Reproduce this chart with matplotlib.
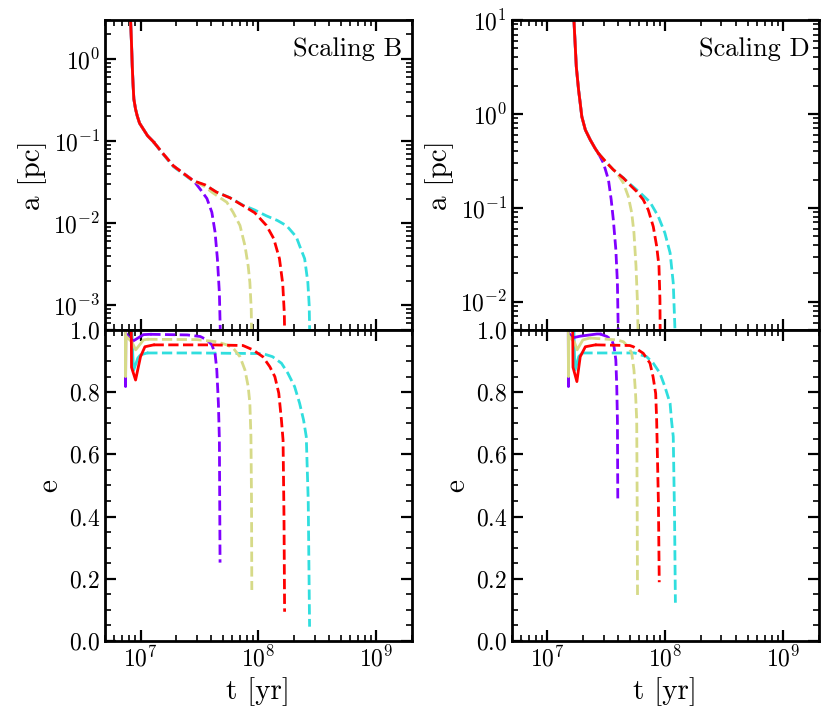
from __future__ import annotations

import matplotlib

matplotlib.use("Agg")
import matplotlib.pyplot as plt
from matplotlib.ticker import FixedLocator, FuncFormatter, LogLocator, NullFormatter

# Colours of the four runs
COLORS = {"purple": "#8000ff", "khaki": "#d6da88", "red": "#ff0000", "cyan": "#30dede"}
ORDER = ["cyan", "purple", "khaki", "red"]

# early (solid) part of the a(t) curves, shared by all runs of one scaling
B_HEAD_T = [8.23e6, 8.39e6, 8.51e6, 8.64e6, 8.78e6, 9.07e6, 9.38e6, 9.81e6, 1.054e7, 1.15e7, 1.29e7]
B_HEAD_A = [3.07, 1.52, 0.82, 0.50, 0.326, 0.247, 0.203, 0.166, 0.141, 0.116, 0.098]
D_HEAD_T = [1.66e7, 1.68e7, 1.76e7, 1.84e7, 1.90e7, 1.96e7, 2.10e7, 2.31e7, 2.54e7, 2.71e7]
D_HEAD_A = [12.0, 10.0, 3.18, 1.8, 1.3, 0.936, 0.676, 0.53, 0.43, 0.38]

# ---------------- Scaling B : separation a [pc], dashed part ----------------
B_A_T = {
    "red": [1.29e7, 1.56e7, 1.9e7, 2.8e7, 3.54e7, 4.4e7, 5.74e7, 7.4e7, 9.33e7, 1.17e8, 1.35e8, 1.51e8, 1.61e8, 1.66e8, 1.68e8],
    "cyan": [1.29e7, 1.56e7, 1.9e7, 2.8e7, 3.54e7, 4.4e7, 5.74e7, 7.4e7, 9.3e7, 1.17e8, 1.45e8, 1.74e8, 2.1e8, 2.24e8, 2.47e8, 2.63e8, 2.7e8, 2.74e8],
    "khaki": [1.29e7, 1.56e7, 1.9e7, 2.8e7, 3.5e7, 4.1e7, 5.4e7, 6.1e7, 6.98e7, 7.7e7, 8.2e7, 8.47e7, 8.7e7, 8.8e7],
    "purple": [1.29e7, 1.56e7, 1.9e7, 2.82e7, 3.21e7, 3.66e7, 4.03e7, 4.29e7, 4.49e7, 4.67e7, 4.79e7],
}
B_A = {
    "red": [0.098, 0.07, 0.05, 0.033, 0.0293, 0.024, 0.0204, 0.0164, 0.0134, 0.0094, 0.0065, 0.0037, 0.00183, 0.0008, 3e-4],
    "cyan": [0.095, 0.069, 0.049, 0.0325, 0.029, 0.024, 0.0205, 0.0166, 0.0145, 0.0123, 0.0108, 0.0093, 0.0068, 0.0053, 0.0037, 0.0019, 0.0010, 3e-4],
    "khaki": [0.098, 0.07, 0.05, 0.033, 0.028, 0.0235, 0.018, 0.0136, 0.0094, 0.0053, 0.003, 0.0019, 0.0009, 3e-4],
    "purple": [0.098, 0.07, 0.05, 0.033, 0.026, 0.020, 0.0136, 0.0078, 0.0037, 0.0014, 3e-4],
}

# ---------------- Scaling B : eccentricity e ----------------
B_E_T = {
    "purple": [7.45e6, 7.47e6, 7.5e6, 8.0e6, 8.7e6, 1.06e7, 1.21e7, 2.5e7, 3.21e7, 3.66e7, 4.03e7, 4.29e7, 4.44e7, 4.58e7, 4.67e7, 4.73e7],
    "khaki": [7.45e6, 7.47e6, 7.55e6, 8.5e6, 9.1e6, 1.06e7, 1.14e7, 3e7, 4.44e7, 5.39e7, 6.13e7, 6.98e7, 7.7e7, 8.2e7, 8.47e7, 8.65e7, 8.75e7, 8.8e7],
    "red": [8.35e6, 8.39e6, 9.08e6, 1.0e7, 1.09e7, 1.29e7, 4e7, 7.4e7, 9.0e7, 1.09e8, 1.25e8, 1.38e8, 1.49e8, 1.57e8, 1.62e8, 1.65e8, 1.67e8],
    "cyan": [8.45e6, 8.6e6, 8.73e6, 9.5e6, 1.0e7, 1.14e7, 3e7, 1.09e8, 1.32e8, 1.57e8, 1.78e8, 2.03e8, 2.24e8, 2.42e8, 2.55e8, 2.65e8, 2.72e8],
}
B_E = {
    "purple": [1.0, 0.818, 0.99, 0.975, 0.965, 0.985, 0.986, 0.984, 0.979, 0.968, 0.952, 0.925, 0.871, 0.764, 0.646, 0.252],
    "khaki": [1.0, 0.85, 0.98, 0.96, 0.936, 0.968, 0.97, 0.969, 0.962, 0.952, 0.941, 0.914, 0.871, 0.818, 0.764, 0.657, 0.45, 0.164],
    "red": [1.0, 0.88, 0.839, 0.914, 0.946, 0.952, 0.952, 0.950, 0.936, 0.914, 0.882, 0.85, 0.797, 0.71, 0.646, 0.40, 0.094],
    "cyan": [1.0, 0.92, 0.87, 0.91, 0.92, 0.926, 0.926, 0.924, 0.914, 0.893, 0.861, 0.818, 0.764, 0.71, 0.657, 0.45, 0.046],
}
B_E_SPLIT = {"purple": 1.21e7, "khaki": 1.14e7, "red": 1.29e7, "cyan": 1.14e7}

# ---------------- Scaling D : separation a [pc], dashed part ----------------
D_A_T = {
    "red": [2.71e7, 3.2e7, 3.63e7, 4.42e7, 5.0e7, 5.73e7, 6.51e7, 7.18e7, 7.92e7, 8.46e7, 8.85e7, 9.02e7, 9.08e7],
    "cyan": [2.71e7, 3.2e7, 3.63e7, 4.42e7, 5.0e7, 6.11e7, 7.43e7, 8.73e7, 9.93e7, 1.1e8, 1.17e8, 1.21e8, 1.22e8],
    "khaki": [2.71e7, 3.2e7, 3.63e7, 3.88e7, 4.42e7, 4.86e7, 5.2e7, 5.43e7, 5.65e7, 5.8e7, 5.93e7],
    "purple": [2.71e7, 2.99e7, 3.3e7, 3.48e7, 3.63e7, 3.81e7, 3.93e7, 4.02e7],
}
D_A = {
    "red": [0.38, 0.30, 0.254, 0.207, 0.176, 0.149, 0.122, 0.095, 0.063, 0.039, 0.024, 0.0106, 3e-3],
    "cyan": [0.38, 0.30, 0.254, 0.208, 0.18, 0.145, 0.115, 0.081, 0.054, 0.0331, 0.0158, 0.005, 3e-3],
    "khaki": [0.38, 0.30, 0.254, 0.235, 0.183, 0.132, 0.088, 0.054, 0.024, 0.0106, 3e-3],
    "purple": [0.38, 0.30, 0.198, 0.122, 0.074, 0.036, 0.0158, 3e-3],
}

# ---------------- Scaling D : eccentricity e ----------------
D_E_T = {
    "purple": [1.505e7, 1.51e7, 1.515e7, 1.65e7, 1.9e7, 2.63e7, 2.8e7, 3.2e7, 3.52e7, 3.68e7, 3.81e7, 3.88e7, 3.93e7, 3.96e7],
    "khaki": [1.505e7, 1.51e7, 1.52e7, 1.7e7, 1.79e7, 2.0e7, 2.3e7, 3.88e7, 4.42e7, 4.86e7, 5.2e7, 5.43e7, 5.6e7, 5.73e7, 5.78e7, 5.82e7],
    "red": [1.64e7, 1.65e7, 1.78e7, 1.9e7, 2.1e7, 2.55e7, 5e7, 5.37e7, 6.51e7, 7.43e7, 7.88e7, 8.3e7, 8.46e7, 8.75e7, 8.9e7],
    "cyan": [1.68e7, 1.70e7, 1.72e7, 1.85e7, 1.98e7, 5.5e7, 6.96e7, 7.92e7, 9.02e7, 9.93e7, 1.1e8, 1.13e8, 1.17e8, 1.2e8, 1.22e8],
}
D_E = {
    "purple": [1.0, 0.818, 0.99, 0.975, 0.98, 0.987, 0.987, 0.979, 0.968, 0.946, 0.904, 0.818, 0.71, 0.445],
    "khaki": [1.0, 0.85, 0.98, 0.96, 0.936, 0.968, 0.974, 0.968, 0.962, 0.946, 0.925, 0.871, 0.796, 0.71, 0.45, 0.142],
    "red": [1.0, 0.88, 0.834, 0.914, 0.946, 0.952, 0.95, 0.946, 0.925, 0.893, 0.85, 0.796, 0.71, 0.45, 0.189],
    "cyan": [1.0, 0.92, 0.871, 0.915, 0.926, 0.926, 0.914, 0.893, 0.861, 0.818, 0.764, 0.71, 0.657, 0.4, 0.123],
}
D_E_SPLIT = {"purple": 2.8e7, "khaki": 2.3e7, "red": 2.55e7, "cyan": 1.98e7}

XLIM = (5e6, 2e9)
B_YLIM = (5e-4, 3.0)
D_YLIM = (5e-3, 10.0)
E_YLIM = (0.0, 1.0)


def draw_split(ax, t: list, v: list, split: float, color: str) -> None:
    solid = [(ti, vi) for ti, vi in zip(t, v) if ti <= split]
    dashed = [(ti, vi) for ti, vi in zip(t, v) if ti >= split]
    ax.plot([p[0] for p in solid], [p[1] for p in solid], color=color, lw=2.0, ls="-")
    ax.plot([p[0] for p in dashed], [p[1] for p in dashed], color=color, lw=2.0, ls="--")


def draw_a(ax, head_t, head_a, times: dict, values: dict) -> None:
    for name in ORDER:
        t = head_t + times[name][1:]
        a = head_a + values[name][1:]
        draw_split(ax, t, a, head_t[-1], COLORS[name])


def draw_e(ax, times: dict, values: dict, splits: dict) -> None:
    for name in ORDER:
        draw_split(ax, times[name], values[name], splits[name], COLORS[name])


def style_axis(ax, log_y: bool) -> None:
    ax.set_xscale("log")
    ax.xaxis.set_major_locator(LogLocator(base=10, numticks=10))
    ax.xaxis.set_minor_locator(LogLocator(base=10, subs=range(2, 10), numticks=20))
    ax.xaxis.set_minor_formatter(NullFormatter())
    if log_y:
        ax.set_yscale("log")
        ax.yaxis.set_major_locator(LogLocator(base=10, numticks=10))
        ax.yaxis.set_minor_locator(LogLocator(base=10, subs=range(2, 10), numticks=20))
        ax.yaxis.set_minor_formatter(NullFormatter())
    else:
        ax.yaxis.set_major_locator(FixedLocator([0.0, 0.2, 0.4, 0.6, 0.8, 1.0]))
        ax.yaxis.set_minor_locator(FixedLocator([i * 0.05 for i in range(21)]))
        ax.yaxis.set_major_formatter(FuncFormatter(lambda v, _: f"${v:.1f}$"))
    ax.tick_params(which="both", direction="in", top=True, right=True, labelsize=17)
    ax.tick_params(which="major", length=8, width=1.6)
    ax.tick_params(which="minor", length=4, width=1.2)
    for sp in ax.spines.values():
        sp.set_linewidth(2.0)
    ax.set_xlim(*XLIM)


def main() -> int:
    plt.rcParams["font.family"] = "serif"
    plt.rcParams["font.serif"] = ["cmr10", "DejaVu Serif"]
    plt.rcParams["mathtext.fontset"] = "cm"
    plt.rcParams["axes.formatter.use_mathtext"] = True

    fig = plt.figure(figsize=(8.31, 7.22), dpi=100)
    left_x, right_x, width = 0.1264, 0.616, 0.369
    bot, mid, top = 0.1122, 0.543, 0.9723

    ax_ba = fig.add_axes([left_x, mid, width, top - mid])
    ax_be = fig.add_axes([left_x, bot, width, mid - bot], sharex=ax_ba)
    ax_da = fig.add_axes([right_x, mid, width, top - mid])
    ax_de = fig.add_axes([right_x, bot, width, mid - bot], sharex=ax_da)

    draw_a(ax_ba, B_HEAD_T, B_HEAD_A, B_A_T, B_A)
    draw_e(ax_be, B_E_T, B_E, B_E_SPLIT)
    draw_a(ax_da, D_HEAD_T, D_HEAD_A, D_A_T, D_A)
    draw_e(ax_de, D_E_T, D_E, D_E_SPLIT)

    for ax in (ax_ba, ax_da):
        style_axis(ax, log_y=True)
        ax.tick_params(labelbottom=False)
        ax.set_ylabel("a [pc]", fontsize=21)
    for ax in (ax_be, ax_de):
        style_axis(ax, log_y=False)
        ax.set_ylim(*E_YLIM)
        ax.set_ylabel("e", fontsize=21)
        ax.set_xlabel("t [yr]", fontsize=21)

    ax_ba.set_ylim(*B_YLIM)
    ax_da.set_ylim(*D_YLIM)
    ax_ba.set_xlim(*XLIM)
    ax_da.set_xlim(*XLIM)

    ax_ba.text(0.97, 0.945, "Scaling B", transform=ax_ba.transAxes, ha="right", va="top", fontsize=19)
    ax_da.text(0.97, 0.945, "Scaling D", transform=ax_da.transAxes, ha="right", va="top", fontsize=19)

    fig.align_ylabels([ax_ba, ax_be])
    fig.align_ylabels([ax_da, ax_de])

    fig.savefig("out.png", dpi=100)
    plt.close(fig)
    return 0


if __name__ == "__main__":
    raise SystemExit(main())
